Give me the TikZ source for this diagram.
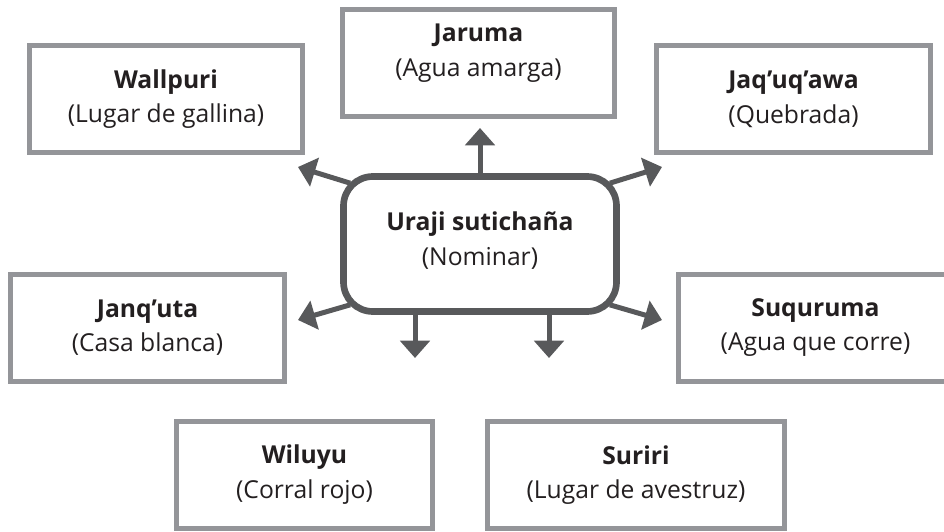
\documentclass[tikz,border=0pt]{standalone}
\usepackage{fontspec}
\setmainfont{Open Sans}
\usetikzlibrary{arrows.meta}

\definecolor{boxgray}{RGB}{148,149,153}
\definecolor{hubgray}{RGB}{88,89,91}
\definecolor{inkgray}{RGB}{35,31,32}

\tikzset{
  place/.style={draw=boxgray, line width=3.75pt, fill=white, align=center,
    inner sep=0pt, text=inkgray, font=\fontsize{18.5}{26}\selectfont,
    minimum height=107*0.75pt},
  hub/.style={draw=hubgray, line width=5pt, fill=white, rounded corners=22pt,
    align=center, inner sep=0pt, text=inkgray, font=\fontsize{18.5}{26}\selectfont,
    text depth=8pt, minimum width=273*0.75pt, minimum height=135*0.75pt},
  spoke/.style={draw=hubgray, line width=3.75pt, -{Triangle[width=22pt,length=13pt]}}
}

\begin{document}
\begin{tikzpicture}[x=0.75pt, y=-0.75pt]
    \useasboundingbox (0,0) rectangle (944,531);
    \clip (0,0) rectangle (944,531);

    % Places
    \node[place, minimum width=272*0.75pt, text depth=19.5pt] (jaruma) at (478.5,63)
        {\textbf{Jaruma}\\(Agua amarga)};
    \node[place, minimum width=273*0.75pt] (wallpuri) at (166,99)
        {\textbf{Wallpuri}\\(Lugar de gallina)};
    \node[place, minimum width=274*0.75pt] (jaquqawa) at (793.5,99)
        {\textbf{Jaq’uq’awa}\\(Quebrada)};
    \node[place, minimum width=274*0.75pt] (janquta) at (147.5,327.5)
        {\textbf{Janq’uta}\\(Casa blanca)};
    \node[place, minimum width=274*0.75pt] (suquruma) at (815.5,327.5)
        {\textbf{Suquruma}\\(Agua que corre)};
    \node[place, minimum width=256*0.75pt] (wiluyu) at (304.5,474.5)
        {\textbf{Wiluyu}\\(Corral rojo)};
    \node[place, minimum width=297*0.75pt] (suriri) at (636,475)
        {\textbf{Suriri}\\(Lugar de avestruz)};

    % Centre
    \node[hub] (uraji) at (480,244) {\textbf{Uraji sutichaña}\\(Nominar)};

    % Arrow tips
    \coordinate (tipN)  at (480,128);
    \coordinate (tipNW) at (298,167);
    \coordinate (tipNE) at (662,167);
    \coordinate (tipSW) at (298,320);
    \coordinate (tipSE) at (662,320);
    \coordinate (tipS1) at (415,358);
    \coordinate (tipS2) at (549,358);

    % Arrows
    \draw[spoke] (uraji.north) -- (tipN);
    \draw[spoke] ([shift={(10,10)}]uraji.north west) -- (tipNW);
    \draw[spoke] ([shift={(-10,10)}]uraji.north east) -- (tipNE);
    \draw[spoke] ([shift={(10,-10)}]uraji.south west) -- (tipSW);
    \draw[spoke] ([shift={(-10,-10)}]uraji.south east) -- (tipSE);
    \draw[spoke] ([shift={(-65,0)}]uraji.south) -- (tipS1);
    \draw[spoke] ([shift={(69,0)}]uraji.south) -- (tipS2);
\end{tikzpicture}
\end{document}
